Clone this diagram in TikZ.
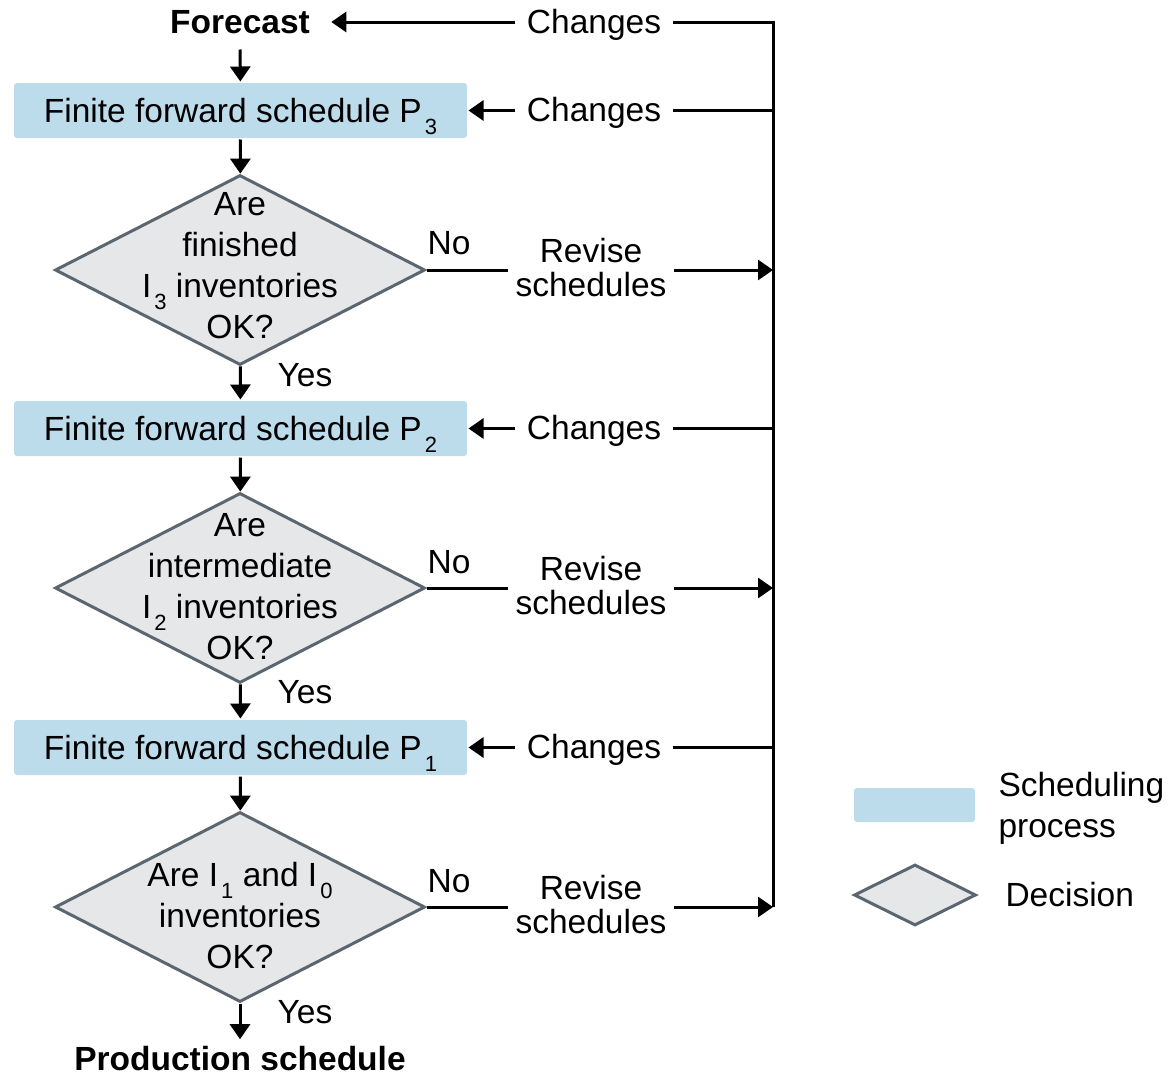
\documentclass[tikz,border=0pt]{standalone}
\usepackage{fontspec}
\setmainfont{Liberation Sans}
\usetikzlibrary{shapes.geometric,arrows.meta}
\definecolor{boxblue}{RGB}{189,220,235}
\definecolor{dfill}{RGB}{230,231,232}
\definecolor{dline}{RGB}{92,102,112}
\newcommand{\sbs}[1]{\kern3pt\raisebox{-12pt}{\fontsize{22}{22}\selectfont #1}}
\begin{document}
\begin{tikzpicture}[x=1pt,y=-1pt,
  font=\fontsize{33.5}{41}\selectfont,
  line width=3pt,
  >={Triangle[length=15pt,width=20pt]},
  procbox/.style={fill=boxblue, rounded corners=3pt, minimum width=453pt, minimum height=55pt, inner sep=0pt, text depth=1pt},
  decbox/.style={diamond, draw=dline, fill=dfill, minimum width=370pt, minimum height=190pt, inner sep=0pt, line width=3pt},
  dectext/.style={align=center, inner sep=0pt},
  chg/.style={inner xsep=10pt, inner ysep=0pt, text depth=2pt},
  rev/.style={align=center, font=\fontsize{33.5}{34}\selectfont, inner xsep=6pt, inner ysep=0pt},
  lbl/.style={inner sep=0pt},
  boldtxt/.style={font=\fontsize{33.5}{41}\selectfont\bfseries}
]
\useasboundingbox (0,0) rectangle (1171,1076);

% main column
\node[boldtxt, minimum height=52pt, inner xsep=20pt, inner ysep=0pt] (fc) at (240,22) {Forecast};
\node[procbox] (b1) at (240.5,110.5) {Finite forward schedule P\sbs{3}};
\node[decbox] (d1) at (240,270) {};
\node[dectext] (t1) at (240,266) {Are\\finished\\I\sbs{3} inventories\\OK?};
\node[procbox] (b2) at (240.5,428.5) {Finite forward schedule P\sbs{2}};
\node[decbox] (d2) at (240,588) {};
\node[dectext] (t2) at (240,587) {Are\\intermediate\\I\sbs{2} inventories\\OK?};
\node[procbox] (b3) at (240.5,747.5) {Finite forward schedule P\sbs{1}};
\node[decbox] (d3) at (240,907) {};
\node[dectext] (t3) at (240,916) {Are I\sbs{1} and I\sbs{0}\\inventories\\OK?};
\node[boldtxt, inner ysep=6pt] (ps) at (240,1059) {Production schedule};

\draw[->] (fc) -- (b1);
\draw[->] (b1) -- (d1);
\draw[->] (d1) -- (b2);
\draw[->] (b2) -- (d2);
\draw[->] (d2) -- (b3);
\draw[->] (b3) -- (d3);
\draw[->] (d3) -- (ps);

% yes / no labels
\node[lbl] (y1) at (305,375) {Yes};
\node[lbl] (y2) at (305,692) {Yes};
\node[lbl] (y3) at (305,1012) {Yes};
\node[lbl] (n1) at (449,243) {No};
\node[lbl] (n2) at (449,562) {No};
\node[lbl] (n3) at (449,881) {No};

% right side
\coordinate (r0) at (773,22);
\coordinate (r6) at (773,907);
\node[chg] (c0) at (594,22) {Changes};
\node[chg] (c1) at (594,110.5) {Changes};
\node[chg] (c2) at (594,428.5) {Changes};
\node[chg] (c3) at (594,747.5) {Changes};
\node[rev] (v1) at (591,268) {Revise\\schedules};
\node[rev] (v2) at (591,586) {Revise\\schedules};
\node[rev] (v3) at (591,905) {Revise\\schedules};

\draw (c0.east) -- (r0) -- (r6);
\draw[->] (c0.west) -- (fc.east);
\draw[->] (c1.west) -- (b1.east);
\draw[->] (c2.west) -- (b2.east);
\draw[->] (c3.west) -- (b3.east);
\draw (c1.east) -- (c1.east -| r0);
\draw (c2.east) -- (c2.east -| r0);
\draw (c3.east) -- (c3.east -| r0);

\draw (d1.east) -- (d1.east -| v1.west);
\draw[->] (d1.east -| v1.east) -- (d1.east -| r0);
\draw (d2.east) -- (d2.east -| v2.west);
\draw[->] (d2.east -| v2.east) -- (d2.east -| r0);
\draw (d3.east) -- (d3.east -| v3.west);
\draw[->] (d3.east -| v3.east) -- (d3.east -| r0);

% legend
\node[procbox, minimum width=121pt, minimum height=34pt] (lg1) at (914.5,805) {};
\node[align=left, anchor=west, inner sep=0pt] (lt1) at (997,808) {Scheduling\\process};
\node[decbox, minimum width=122pt, minimum height=61pt] (lg2) at (915,895) {};
\node[anchor=west, inner sep=0pt] (lt2) at (1004,895) {Decision};
\end{tikzpicture}
\end{document}
